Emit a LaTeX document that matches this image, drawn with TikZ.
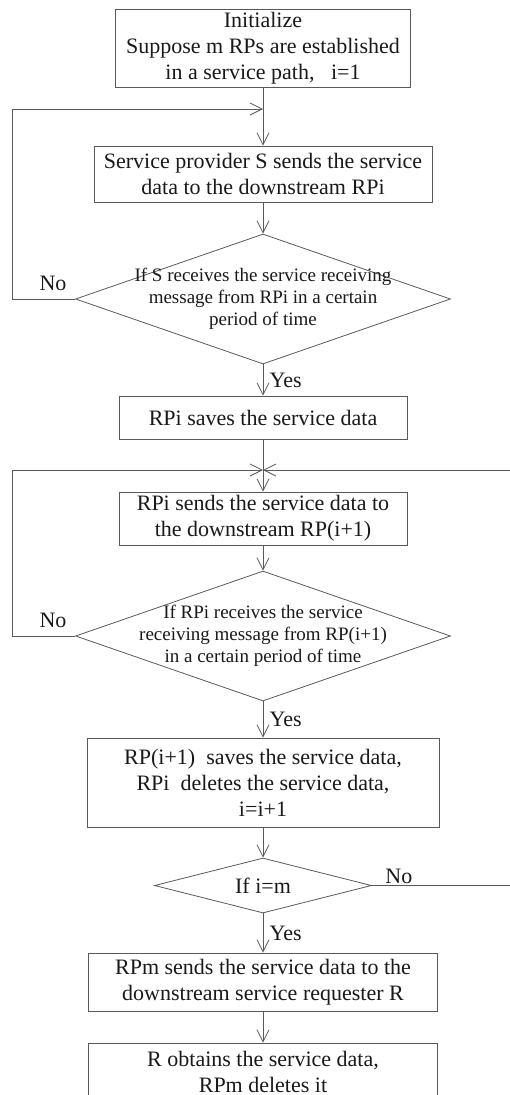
\documentclass[tikz,border=0pt]{standalone}
\usepackage{fontspec}
\setmainfont{Liberation Serif}
\usetikzlibrary{shapes.geometric,arrows.meta}

\begin{document}
\begin{tikzpicture}[x=1pt,y=-1pt,
    box/.style={draw=black!65,line width=0.8pt,inner sep=0pt,align=center,text=black!90,font=\fontsize{22}{26}\selectfont},
    dec/.style={draw=black!65,line width=0.8pt,diamond,inner sep=0pt},
    dectext/.style={align=center,text=black!90,font=\fontsize{19}{22}\selectfont},
    arr/.style={draw=black!65,line width=0.8pt,-{Straight Barb[length=12pt,width=12pt]}},
    lab/.style={text=black!90,font=\fontsize{22}{26}\selectfont}]

    \useasboundingbox (0,0) rectangle (510,1095);

    \node[box,minimum width=295pt,minimum height=78pt] (init) at (263,48) {Initialize\\Suppose m RPs are established\\in a service path,\hspace{0.5em} i=1};
    \node[box,minimum width=338pt,minimum height=56pt] (send) at (263,174) {Service provider S sends the service\\data to the downstream RPi};
    \node[dec,minimum width=375pt,minimum height=130pt] (d1) at (263,299) {};
    \node[dectext] at (d1) {If S receives the service receiving\\message from RPi in a certain\\period of time};
    \node[box,minimum width=288pt,minimum height=43pt] (save) at (263,417.5) {RPi saves the service data};
    \node[box,minimum width=288pt,minimum height=53pt] (fwd) at (263,518.5) {RPi sends the service data to\\the downstream RP(i+1)};
    \node[dec,minimum width=375pt,minimum height=130pt] (d2) at (263,636) {};
    \node[dectext] at (d2) {If RPi receives the service\\receiving message from RP(i+1)\\in a certain period of time};
    \node[box,minimum width=352pt,minimum height=89pt] (upd) at (263,782.5) {RP(i+1)\hspace{0.25em} saves the service data,\\RPi\hspace{0.25em} deletes the service data,\\i=i+1};
    \node[dec,minimum width=217pt,minimum height=55pt] (d3) at (263,885.5) {};
    \node[lab] at (d3) {If i=m};
    \node[box,minimum width=349pt,minimum height=58pt] (req) at (263,982) {RPm sends the service data to the\\downstream service requester R};
    \node[box,minimum width=349pt,minimum height=58pt] (done) at (263,1072) {R obtains the service data,\\RPm deletes it};

    \coordinate (m1) at (263,109);
    \coordinate (m2) at (263,470);

    \draw[arr] (init) -- (send);
    \draw[arr] (send) -- (d1);
    \draw[arr] (d1) -- node[lab,right,xshift=3pt]{Yes} (save);
    \draw[arr] (save) -- (fwd);
    \draw[arr] (fwd) -- (d2);
    \draw[arr] (d2) -- node[lab,right,xshift=3pt]{Yes} (upd);
    \draw[arr] (upd) -- (d3);
    \draw[arr] (d3) -- node[lab,right,xshift=3pt]{Yes} (req);
    \draw[arr] (req) -- (done);

    \draw[arr] (d1.west) -- ++(-63,0) node[lab,pos=0.35,above,yshift=5pt]{No} |- (m1);
    \draw[arr] (d2.west) -- ++(-63,0) node[lab,pos=0.35,above,yshift=5pt]{No} |- (m2);
    \draw[arr] (d3.east) -- ++(150,0) node[lab,pos=0.18,above,inner sep=1pt]{No} |- (m2);
\end{tikzpicture}
\end{document}
